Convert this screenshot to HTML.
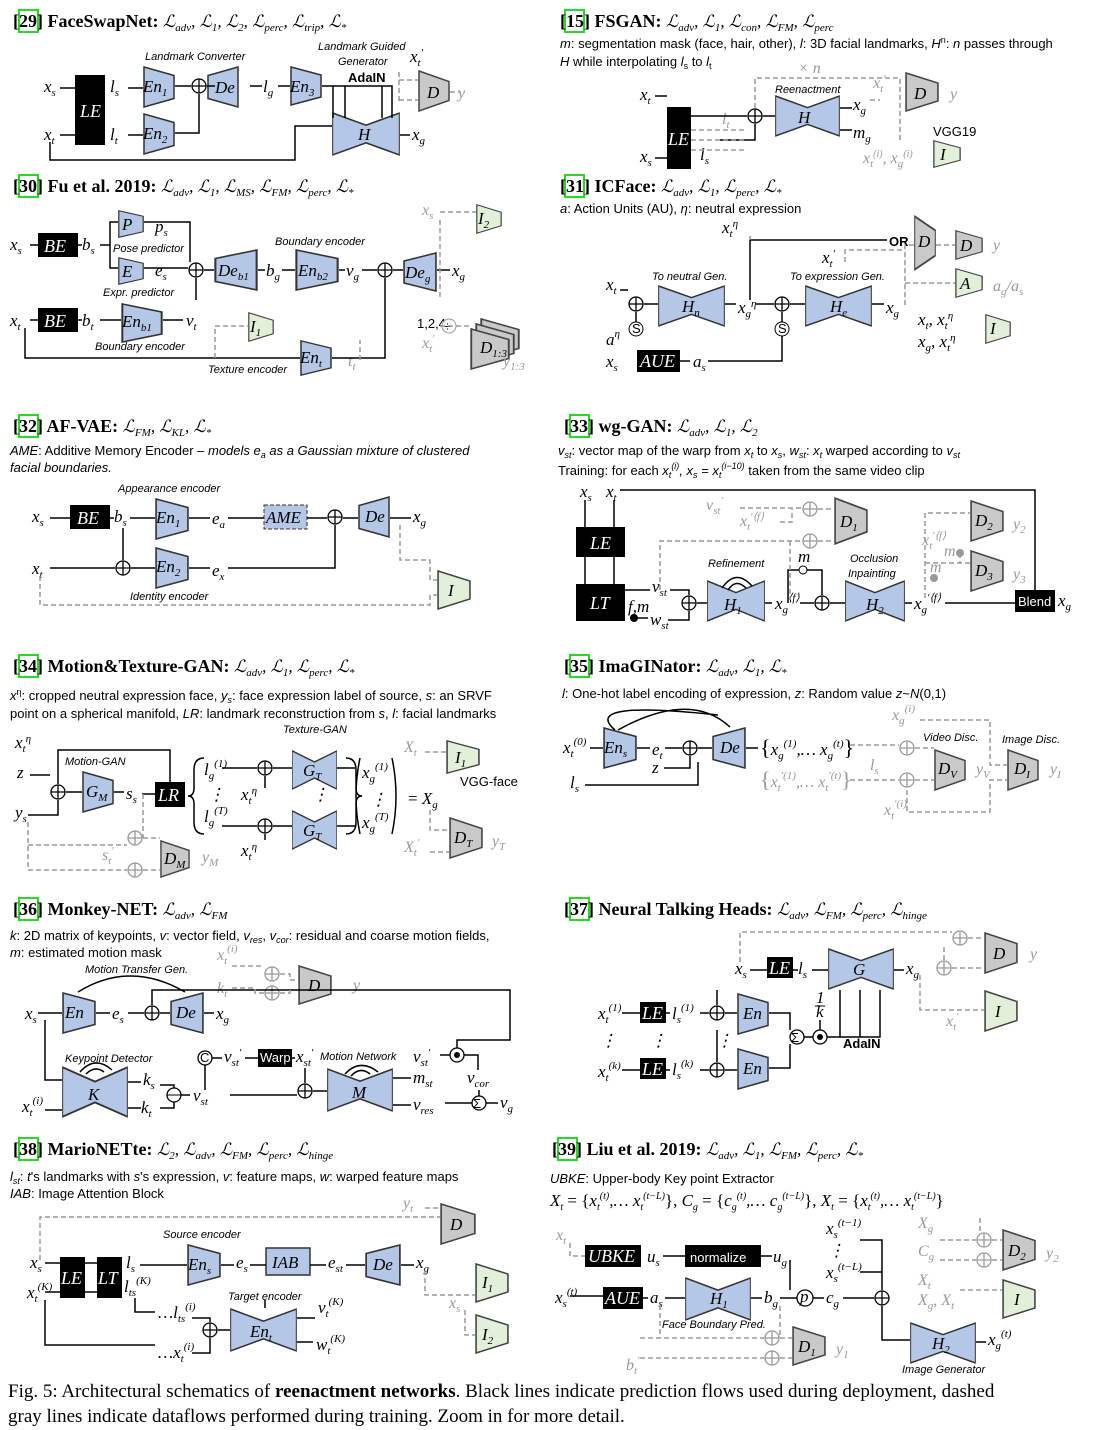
<!DOCTYPE html>
<html><head><meta charset="utf-8"><style>
body{margin:0;background:#fff}
svg{display:block}
.m{font-family:"Liberation Serif",serif;font-style:italic;font-size:17px;fill:#000}
.mg{font-family:"Liberation Serif",serif;font-style:italic;font-size:16px;fill:#999}
.s{font-family:"Liberation Sans",sans-serif;font-style:italic;font-size:11px;fill:#000}
.n{font-family:"Liberation Sans",sans-serif;font-size:13px;fill:#000}
.nw{font-family:"Liberation Sans",sans-serif;font-size:13px;fill:#fff}
.t{font-family:"Liberation Serif",serif;font-size:18px;font-weight:bold;fill:#000}
.l{font-family:"Liberation Serif",serif;font-style:italic;font-size:17px;font-weight:normal}
.w{font-family:"Liberation Serif",serif;font-style:italic;font-size:18px;fill:#fff}
.c{font-family:"Liberation Serif",serif;font-size:19px;fill:#000}
.k{stroke:#000;stroke-width:1.5;fill:none}
.d{stroke:#999;stroke-width:1.5;fill:none;stroke-dasharray:5,3}
</style></head><body>
<svg width="1095" height="1430" viewBox="0 0 1095 1430" xmlns="http://www.w3.org/2000/svg">
<defs>
<symbol id="enc" viewBox="0 0 32 40" preserveAspectRatio="none"><polygon points="1,1 31,9 31,31 1,39" fill="#b4c7e7" stroke="#333" stroke-width="1.5"/></symbol>
<symbol id="dec" viewBox="0 0 32 40" preserveAspectRatio="none"><polygon points="1,9 31,1 31,39 1,31" fill="#b4c7e7" stroke="#333" stroke-width="1.5"/></symbol>
<symbol id="bow" viewBox="0 0 100 40" preserveAspectRatio="none"><polygon points="1,1 50,12 99,1 99,39 50,28 1,39" fill="#b4c7e7" stroke="#333" stroke-width="1.5"/></symbol>
<symbol id="dis" viewBox="0 0 32 40" preserveAspectRatio="none"><polygon points="1,1 31,11 31,29 1,39" fill="#c9c9c9" stroke="#444" stroke-width="1.5"/></symbol>
<symbol id="idn" viewBox="0 0 32 40" preserveAspectRatio="none"><polygon points="1,1 31,11 31,29 1,39" fill="#e2efd9" stroke="#444" stroke-width="1.5"/></symbol>
<symbol id="pl" viewBox="-8 -8 16 16"><circle r="7" fill="#fff" stroke="#000" stroke-width="1.3"/><path d="M-7 0H7M0 -7V7" stroke="#000" stroke-width="1.3"/></symbol>
<symbol id="pg" viewBox="-8 -8 16 16"><circle r="7" fill="#fff" stroke="#999" stroke-width="1.3"/><path d="M-7 0H7M0 -7V7" stroke="#999" stroke-width="1.3"/></symbol>
</defs>

<!-- ================= 29 ================= -->
<rect x="19" y="10" width="19" height="22" fill="none" stroke="#2d2" stroke-width="2"/>
<text x="13" y="27" class="t">[29] FaceSwapNet: <tspan class="l">ℒ<tspan font-size="11" dy="4">adv</tspan><tspan dy="-4">, ℒ</tspan><tspan font-size="11" dy="4">1</tspan><tspan dy="-4">, ℒ</tspan><tspan font-size="11" dy="4">2</tspan><tspan dy="-4">, ℒ</tspan><tspan font-size="11" dy="4">perc</tspan><tspan dy="-4">, ℒ</tspan><tspan font-size="11" dy="4">trip</tspan><tspan dy="-4">, ℒ</tspan><tspan font-size="11" dy="4">*</tspan></tspan></text>
<text x="145" y="60" class="s">Landmark Converter</text>
<text x="318" y="50" class="s">Landmark Guided</text><text x="338" y="65" class="s">Generator</text>
<text x="348" y="82" class="n" font-size="11" font-weight="bold">AdaIN</text>
<rect x="75" y="75" width="30" height="70" fill="#000"/><text x="80" y="117" class="w">LE</text>
<text x="44" y="92" class="m">x<tspan font-size="11" dy="4">s</tspan></text>
<text x="44" y="140" class="m">x<tspan font-size="11" dy="4">t</tspan></text>
<text x="110" y="92" class="m">l<tspan font-size="11" dy="4">s</tspan></text>
<text x="110" y="140" class="m">l<tspan font-size="11" dy="4">t</tspan></text>
<use href="#enc" x="143" y="66" width="32" height="42"/><text x="143" y="92" class="m">En<tspan font-size="11" dy="4">1</tspan></text>
<use href="#enc" x="143" y="113" width="32" height="42"/><text x="143" y="139" class="m">En<tspan font-size="11" dy="4">2</tspan></text>
<use href="#pl" x="191" y="78" width="16" height="16"/>
<use href="#dec" x="207" y="66" width="32" height="42"/><text x="215" y="93" class="m">De</text>
<text x="263" y="92" class="m">l<tspan font-size="11" dy="4">g</tspan></text>
<use href="#enc" x="290" y="66" width="32" height="40"/><text x="290" y="92" class="m">En<tspan font-size="11" dy="4">3</tspan></text>
<use href="#bow" x="332" y="112" width="68" height="44"/><text x="358" y="140" class="m">H</text>
<text x="412" y="140" class="m">x<tspan font-size="11" dy="4">g</tspan></text>
<text x="410" y="62" class="m">x<tspan font-size="11" dy="4">t</tspan><tspan font-size="11" dy="-10">′</tspan></text>
<use href="#dis" x="418" y="70" width="32" height="42"/><text x="427" y="98" class="m">D</text>
<text x="458" y="98" class="mg">y</text>
<path class="k" d="M60 88H75M60 135H75M128 88H143M128 135H143M175 86H191M175 133H199V94M207 86H215M250 86H262M278 86H290M322 86H392V118M333 86V118M345 86V118M382 86V118M50 142V160H295V126H332M400 135H410"/>
<path class="d" d="M399 72V104M399 80H418M399 100H418M450 92H460"/>

<!-- ================= 15 ================= -->
<rect x="565" y="10" width="19" height="22" fill="none" stroke="#2d2" stroke-width="2"/>
<text x="560" y="27" class="t">[15] FSGAN: <tspan class="l">ℒ<tspan font-size="11" dy="4">adv</tspan><tspan dy="-4">, ℒ</tspan><tspan font-size="11" dy="4">1</tspan><tspan dy="-4">, ℒ</tspan><tspan font-size="11" dy="4">con</tspan><tspan dy="-4">, ℒ</tspan><tspan font-size="11" dy="4">FM</tspan><tspan dy="-4">, ℒ</tspan><tspan font-size="11" dy="4">perc</tspan></tspan></text>
<text x="560" y="48" class="n"><tspan font-style="italic">m</tspan>: segmentation mask (face, hair, other), <tspan font-style="italic">l</tspan>: 3D facial landmarks, <tspan font-style="italic">H</tspan><tspan font-size="9" dy="-5">n</tspan><tspan dy="5">: </tspan><tspan font-style="italic">n</tspan> passes through</text>
<text x="560" y="66" class="n"><tspan font-style="italic">H</tspan> while interpolating <tspan font-style="italic">l</tspan><tspan font-size="9" dy="3">s</tspan><tspan dy="-3"> to </tspan><tspan font-style="italic">l</tspan><tspan font-size="9" dy="3">t</tspan></text>
<text x="640" y="100" class="m">x<tspan font-size="11" dy="4">t</tspan></text>
<text x="640" y="162" class="m">x<tspan font-size="11" dy="4">s</tspan></text>
<rect x="667" y="107" width="24" height="62" fill="#000"/><text x="668" y="145" class="w">LE</text>
<text x="722" y="124" class="mg">l<tspan font-size="11" dy="4">t</tspan></text>
<text x="700" y="160" class="m">l<tspan font-size="11" dy="4">s</tspan></text>
<use href="#pl" x="747" y="108" width="16" height="16"/>
<text x="775" y="93" class="s">Reenactment</text>
<use href="#bow" x="775" y="95" width="65" height="42"/><text x="798" y="123" class="m">H</text>
<text x="853" y="110" class="m">x<tspan font-size="11" dy="4">g</tspan></text>
<text x="853" y="138" class="m">m<tspan font-size="11" dy="4">g</tspan></text>
<text x="798" y="73" class="mg" font-size="12">× n</text>
<text x="873" y="88" class="mg">x<tspan font-size="11" dy="4">t</tspan><tspan font-size="11" dy="-10">′</tspan></text>
<use href="#dis" x="905" y="72" width="34" height="40"/><text x="914" y="99" class="m">D</text>
<text x="950" y="99" class="mg">y</text>
<text x="933" y="136" class="n" font-size="8">VGG19</text>
<use href="#idn" x="933" y="140" width="28" height="28"/><text x="940" y="160" class="m">I</text>
<text x="863" y="163" class="mg">x<tspan font-size="11" dy="4">t</tspan><tspan font-size="10" dy="-10">(i)</tspan><tspan dy="6">, x</tspan><tspan font-size="11" dy="4">g</tspan><tspan font-size="10" dy="-10">(i)</tspan></text>
<path class="k" d="M655 96H667M655 158H667M691 116H747M763 116H775M840 108H852M840 130H852M755 124V140H720"/>
<path class="d" d="M755 108V78H900V140M870 100H880M691 130H745M691 140H745M691 150H745"/>

<!-- ================= 30 ================= -->
<rect x="19" y="175" width="19" height="22" fill="none" stroke="#2d2" stroke-width="2"/>
<text x="13" y="192" class="t">[30] Fu et al. 2019: <tspan class="l">ℒ<tspan font-size="11" dy="4">adv</tspan><tspan dy="-4">, ℒ</tspan><tspan font-size="11" dy="4">1</tspan><tspan dy="-4">, ℒ</tspan><tspan font-size="11" dy="4">MS</tspan><tspan dy="-4">, ℒ</tspan><tspan font-size="11" dy="4">FM</tspan><tspan dy="-4">, ℒ</tspan><tspan font-size="11" dy="4">perc</tspan><tspan dy="-4">, ℒ</tspan><tspan font-size="11" dy="4">*</tspan></tspan></text>
<text x="10" y="250" class="m">x<tspan font-size="11" dy="4">s</tspan></text>
<rect x="38" y="233" width="40" height="24" fill="#000"/><text x="44" y="252" class="w">BE</text>
<text x="82" y="250" class="m">b<tspan font-size="11" dy="4">s</tspan></text>
<use href="#enc" x="118" y="210" width="26" height="28"/><text x="122" y="230" class="m">P</text>
<use href="#enc" x="118" y="257" width="26" height="28"/><text x="122" y="277" class="m">E</text>
<text x="113" y="252" class="s">Pose predictor</text>
<text x="103" y="296" class="s">Expr. predictor</text>
<text x="155" y="232" class="m">p<tspan font-size="11" dy="4">s</tspan></text>
<text x="155" y="276" class="m">e<tspan font-size="11" dy="4">s</tspan></text>
<use href="#pl" x="188" y="262" width="16" height="16"/>
<use href="#dec" x="214" y="249" width="44" height="42"/><text x="218" y="276" class="m">De<tspan font-size="11" dy="4">b1</tspan></text>
<text x="266" y="276" class="m">b<tspan font-size="11" dy="4">g</tspan></text>
<text x="275" y="245" class="s">Boundary encoder</text>
<use href="#enc" x="295" y="249" width="44" height="42"/><text x="298" y="276" class="m">En<tspan font-size="11" dy="4">b2</tspan></text>
<text x="346" y="276" class="m">v<tspan font-size="11" dy="4">g</tspan></text>
<use href="#pl" x="377" y="262" width="16" height="16"/>
<use href="#dec" x="403" y="252" width="34" height="40"/><text x="405" y="278" class="m">De<tspan font-size="11" dy="4">g</tspan></text>
<text x="452" y="276" class="m">x<tspan font-size="11" dy="4">g</tspan></text>
<text x="422" y="215" class="mg">x<tspan font-size="11" dy="4">s</tspan></text>
<use href="#idn" x="476" y="204" width="26" height="30"/><text x="478" y="224" class="m">I<tspan font-size="11" dy="4">2</tspan></text>
<text x="10" y="326" class="m">x<tspan font-size="11" dy="4">t</tspan></text>
<rect x="38" y="308" width="40" height="24" fill="#000"/><text x="44" y="327" class="w">BE</text>
<text x="82" y="326" class="m">b<tspan font-size="11" dy="4">t</tspan></text>
<use href="#enc" x="121" y="303" width="42" height="40"/><text x="122" y="327" class="m">En<tspan font-size="11" dy="4">b1</tspan></text>
<text x="186" y="326" class="m">v<tspan font-size="11" dy="4">t</tspan></text>
<text x="95" y="350" class="s">Boundary encoder</text>
<use href="#idn" x="248" y="312" width="26" height="30"/><text x="250" y="332" class="m">I<tspan font-size="11" dy="4">1</tspan></text>
<use href="#enc" x="300" y="340" width="32" height="36"/><text x="300" y="363" class="m">En<tspan font-size="11" dy="4">t</tspan></text>
<text x="208" y="373" class="s">Texture encoder</text>
<text x="348" y="366" class="mg">t<tspan font-size="11" dy="4">t</tspan></text>
<text x="417" y="328" class="n" font-size="9">1,2,4</text>
<circle cx="449" cy="326" r="7" fill="#fff" stroke="#999"/><text x="444" y="331" class="n" fill="#555">÷</text>
<text x="422" y="348" class="mg">x<tspan font-size="11" dy="4">t</tspan><tspan font-size="11" dy="-10">′</tspan></text>
<use href="#dis" x="480" y="318" width="40" height="42"/>
<use href="#dis" x="475" y="323" width="40" height="42"/>
<use href="#dis" x="470" y="328" width="40" height="42"/><text x="480" y="353" class="m">D<tspan font-size="11" dy="4">1:3</tspan></text>
<text x="503" y="366" class="mg">y<tspan font-size="11" dy="4">1:3</tspan></text>
<path class="k" d="M30 245H38M78 245H82M100 245H110V222H118M110 245V268H118M144 222H190V262M144 268H188M204 270H214M258 270H265M282 270H295M339 270H345M362 270H377M393 270H403M437 270H450M30 320H38M78 320H82M100 320H121M163 320H183M25 328V358H300M332 358H385V278M196 278V300"/>
<path class="d" d="M215 358V326H248M440 212H476M440 220V300M440 326H470M360 360V340"/>

<!-- ================= 31 ================= -->
<rect x="565" y="175" width="19" height="22" fill="none" stroke="#2d2" stroke-width="2"/>
<text x="560" y="192" class="t">[31] ICFace: <tspan class="l">ℒ<tspan font-size="11" dy="4">adv</tspan><tspan dy="-4">, ℒ</tspan><tspan font-size="11" dy="4">1</tspan><tspan dy="-4">, ℒ</tspan><tspan font-size="11" dy="4">perc</tspan><tspan dy="-4">, ℒ</tspan><tspan font-size="11" dy="4">*</tspan></tspan></text>
<text x="560" y="213" class="n"><tspan font-style="italic">a</tspan>: Action Units (AU), <tspan font-style="italic">η</tspan>: neutral expression</text>
<text x="722" y="233" class="m">x<tspan font-size="11" dy="4">t</tspan><tspan font-size="11" dy="-10">η</tspan></text>
<text x="822" y="263" class="m">x<tspan font-size="11" dy="4">t</tspan><tspan font-size="11" dy="-10">′</tspan></text>
<text x="889" y="246" class="n" font-size="10" font-weight="bold">OR</text>
<use href="#dis" x="914" y="215" width="22" height="56"/><text x="918" y="247" class="m">D</text>
<use href="#dis" x="955" y="230" width="28" height="30"/><text x="960" y="251" class="m">D</text>
<text x="993" y="250" class="mg">y</text>
<use href="#idn" x="955" y="268" width="28" height="30"/><text x="960" y="289" class="m">A</text>
<text x="993" y="291" class="mg">a<tspan font-size="11" dy="4">g</tspan><tspan dy="-4">/a</tspan><tspan font-size="11" dy="4">s</tspan></text>
<text x="918" y="325" class="m">x<tspan font-size="11" dy="4">t</tspan><tspan dy="-4">, x</tspan><tspan font-size="11" dy="4">t</tspan><tspan font-size="11" dy="-10">η</tspan></text>
<text x="918" y="347" class="m">x<tspan font-size="11" dy="4">g</tspan><tspan dy="-4">, x</tspan><tspan font-size="11" dy="4">t</tspan><tspan font-size="11" dy="-10">η</tspan></text>
<use href="#idn" x="985" y="314" width="26" height="30"/><text x="990" y="334" class="m">I</text>
<text x="606" y="290" class="m">x<tspan font-size="11" dy="4">t</tspan></text>
<use href="#pl" x="628" y="296" width="16" height="16"/>
<circle cx="636" cy="329" r="7" fill="#fff" stroke="#000"/><text x="632" y="333" class="n" font-size="10">S</text>
<text x="606" y="345" class="m">a<tspan font-size="11" dy="-8">η</tspan></text>
<text x="652" y="280" class="s">To neutral Gen.</text>
<use href="#bow" x="658" y="285" width="67" height="42"/><text x="682" y="312" class="m">H<tspan font-size="11" dy="4">n</tspan></text>
<text x="738" y="313" class="m">x<tspan font-size="11" dy="4">g</tspan><tspan font-size="11" dy="-10">η</tspan></text>
<use href="#pl" x="774" y="296" width="16" height="16"/>
<circle cx="782" cy="329" r="7" fill="#fff" stroke="#000"/><text x="778" y="333" class="n" font-size="10">S</text>
<text x="790" y="280" class="s">To expression Gen.</text>
<use href="#bow" x="805" y="285" width="67" height="42"/><text x="830" y="312" class="m">H<tspan font-size="11" dy="4">e</tspan></text>
<text x="886" y="313" class="m">x<tspan font-size="11" dy="4">g</tspan></text>
<text x="606" y="367" class="m">x<tspan font-size="11" dy="4">s</tspan></text>
<rect x="637" y="350" width="43" height="22" fill="#000"/><text x="640" y="367" class="w">AUE</text>
<text x="693" y="367" class="m">a<tspan font-size="11" dy="4">s</tspan></text>
<path class="k" d="M620 290H628M644 304H658M636 312V322M725 304H736M756 304H774M790 304H805M782 312V322M872 304H884M680 361H690M708 361H782V336M750 300V240H887"/>
<path class="d" d="M905 305V245H914M936 245H955M905 283H955M750 240V236M845 262V250H905"/>

<!-- ================= 32 ================= -->
<rect x="19" y="415" width="19" height="22" fill="none" stroke="#2d2" stroke-width="2"/>
<text x="13" y="432" class="t">[32] AF-VAE: <tspan class="l">ℒ<tspan font-size="11" dy="4">FM</tspan><tspan dy="-4">, ℒ</tspan><tspan font-size="11" dy="4">KL</tspan><tspan dy="-4">, ℒ</tspan><tspan font-size="11" dy="4">*</tspan></tspan></text>
<text x="10" y="455" class="n"><tspan font-style="italic">AME</tspan>: Additive Memory Encoder – <tspan font-style="italic">models e<tspan font-size="9" dy="3">a</tspan><tspan dy="-3"> as a Gaussian mixture of clustered</tspan></tspan></text>
<text x="10" y="472" class="n" font-style="italic">facial boundaries.</text>
<text x="118" y="492" class="s">Appearance encoder</text>
<text x="32" y="522" class="m">x<tspan font-size="11" dy="4">s</tspan></text>
<rect x="70" y="505" width="40" height="24" fill="#000"/><text x="77" y="524" class="w">BE</text>
<text x="114" y="522" class="m">b<tspan font-size="11" dy="4">s</tspan></text>
<use href="#enc" x="155" y="498" width="34" height="42"/><text x="156" y="523" class="m">En<tspan font-size="11" dy="4">1</tspan></text>
<text x="212" y="524" class="m">e<tspan font-size="11" dy="4">a</tspan></text>
<rect x="264" y="505" width="43" height="24" fill="#b4c7e7" stroke="#333" stroke-dasharray="4,2"/><text x="266" y="523" class="m">AME</text>
<use href="#pl" x="327" y="509" width="16" height="16"/>
<use href="#dec" x="358" y="496" width="32" height="42"/><text x="365" y="522" class="m">De</text>
<text x="413" y="522" class="m">x<tspan font-size="11" dy="4">g</tspan></text>
<text x="32" y="574" class="m">x<tspan font-size="11" dy="4">t</tspan></text>
<use href="#pl" x="115" y="560" width="16" height="16"/>
<use href="#enc" x="155" y="547" width="34" height="42"/><text x="156" y="572" class="m">En<tspan font-size="11" dy="4">2</tspan></text>
<text x="212" y="576" class="m">e<tspan font-size="11" dy="4">x</tspan></text>
<text x="130" y="600" class="s">Identity encoder</text>
<use href="#idn" x="437" y="570" width="34" height="40"/><text x="448" y="596" class="m">I</text>
<path class="k" d="M50 518H70M110 518H114M130 518H155M189 518H210M228 518H264M307 518H327M343 518H358M390 518H411M123 528V560M50 568H115M131 568H155M189 568H210M228 568H335V525"/>
<path class="d" d="M40 576V605H430V595H437M400 525V560H430V580H437"/>

<!-- ================= 33 ================= -->
<rect x="570" y="415" width="19" height="22" fill="none" stroke="#2d2" stroke-width="2"/>
<text x="564" y="432" class="t">[33] wg-GAN: <tspan class="l">ℒ<tspan font-size="11" dy="4">adv</tspan><tspan dy="-4">, ℒ</tspan><tspan font-size="11" dy="4">1</tspan><tspan dy="-4">, ℒ</tspan><tspan font-size="11" dy="4">2</tspan></tspan></text>
<text x="558" y="455" class="n"><tspan font-style="italic">v<tspan font-size="9" dy="3">st</tspan></tspan><tspan dy="-3">: vector map of the warp from </tspan><tspan font-style="italic">x<tspan font-size="9" dy="3">t</tspan></tspan><tspan dy="-3"> to </tspan><tspan font-style="italic">x<tspan font-size="9" dy="3">s</tspan></tspan><tspan dy="-3">, </tspan><tspan font-style="italic">w<tspan font-size="9" dy="3">st</tspan></tspan><tspan dy="-3">: </tspan><tspan font-style="italic">x<tspan font-size="9" dy="3">t</tspan></tspan><tspan dy="-3"> warped according to </tspan><tspan font-style="italic">v<tspan font-size="9" dy="3">st</tspan></tspan></text>
<text x="558" y="475" class="n">Training: for each <tspan font-style="italic">x<tspan font-size="9" dy="3">t</tspan><tspan font-size="9" dy="-9">(i)</tspan><tspan dy="6">, x</tspan><tspan font-size="9" dy="3">s</tspan><tspan dy="-3"> = x</tspan><tspan font-size="9" dy="3">t</tspan><tspan font-size="9" dy="-9">(i−10)</tspan></tspan><tspan dy="6"> taken from the same video clip</tspan></text>
<text x="580" y="497" class="m">x<tspan font-size="11" dy="4">s</tspan></text>
<text x="606" y="497" class="m">x<tspan font-size="11" dy="4">t</tspan></text>
<rect x="576" y="527" width="49" height="30" fill="#000"/><text x="590" y="549" class="w">LE</text>
<rect x="576" y="584" width="49" height="37" fill="#000"/><text x="590" y="609" class="w">LT</text>
<text x="652" y="592" class="m">v<tspan font-size="11" dy="4">st</tspan></text>
<text x="650" y="625" class="m">w<tspan font-size="11" dy="4">st</tspan></text>
<text x="628" y="612" class="m" font-size="12">f,m</text>
<circle cx="634" cy="618" r="4" fill="#000"/>
<use href="#pl" x="681" y="595" width="16" height="16"/>
<text x="708" y="567" class="s">Refinement</text>
<use href="#bow" x="707" y="580" width="58" height="42"/><text x="724" y="610" class="m">H<tspan font-size="11" dy="4">1</tspan></text>
<path class="k" d="M722 588Q736 568 752 586M728 590Q736 578 746 588"/>
<text x="775" y="609" class="m">x<tspan font-size="11" dy="4">g</tspan><tspan font-size="11" dy="-12">⟨f⟩</tspan></text>
<use href="#pl" x="814" y="595" width="16" height="16"/>
<circle cx="803" cy="570" r="4" fill="#fff" stroke="#000"/><text x="798" y="562" class="m" font-size="11">m</text>
<text x="850" y="562" class="s">Occlusion</text><text x="848" y="577" class="s">Inpainting</text>
<use href="#bow" x="845" y="580" width="60" height="42"/><text x="866" y="610" class="m">H<tspan font-size="11" dy="4">2</tspan></text>
<text x="914" y="609" class="m">x<tspan font-size="11" dy="4">g</tspan><tspan font-size="11" dy="-12">′⟨f⟩</tspan></text>
<rect x="1015" y="590" width="40" height="22" fill="#000"/><text x="1018" y="606" class="nw">Blend</text>
<text x="1058" y="606" class="m">x<tspan font-size="11" dy="4">g</tspan></text>
<text x="706" y="510" class="mg">v<tspan font-size="11" dy="4">st</tspan><tspan font-size="11" dy="-10">′</tspan></text>
<text x="740" y="526" class="mg">x<tspan font-size="11" dy="4">t</tspan><tspan font-size="11" dy="-10">′⟨f⟩</tspan></text>
<use href="#pg" x="802" y="501" width="16" height="16"/>
<use href="#pg" x="802" y="533" width="16" height="16"/>
<use href="#dis" x="834" y="497" width="34" height="48"/><text x="840" y="527" class="m">D<tspan font-size="11" dy="4">1</tspan></text>
<use href="#dis" x="970" y="500" width="34" height="42"/><text x="975" y="526" class="m">D<tspan font-size="11" dy="4">2</tspan></text>
<text x="1013" y="529" class="mg">y<tspan font-size="11" dy="4">2</tspan></text>
<use href="#dis" x="970" y="550" width="34" height="42"/><text x="975" y="576" class="m">D<tspan font-size="11" dy="4">3</tspan></text>
<text x="1013" y="579" class="mg">y<tspan font-size="11" dy="4">3</tspan></text>
<text x="922" y="545" class="mg">x<tspan font-size="11" dy="4">t</tspan><tspan font-size="11" dy="-10">′⟨f⟩</tspan></text>
<text x="944" y="556" class="mg" font-size="11">m</text><circle cx="960" cy="553" r="4" fill="#999"/>
<text x="930" y="572" class="mg" font-size="11">m</text><circle cx="934" cy="578" r="4" fill="#999"/>
<path class="k" d="M585 500V527M614 500V527M585 557V584M614 557V584M625 590H650M670 590H689V595M638 618H648M668 620H689V611M697 603H707M765 603H772M800 603H814M830 603H845M788 603V570H799M807 570H822V595M905 603H912M945 603H1015M620 490H1035V590"/>
<path class="d" d="M740 508H802M780 522H792V509M818 509H834M660 590V541H802M818 541H834M790 541V600M925 598V513H970M925 563H970M960 553V563"/>

<!-- ================= 34 ================= -->
<rect x="19" y="655" width="19" height="22" fill="none" stroke="#2d2" stroke-width="2"/>
<text x="13" y="672" class="t">[34] Motion&amp;Texture-GAN: <tspan class="l">ℒ<tspan font-size="11" dy="4">adv</tspan><tspan dy="-4">, ℒ</tspan><tspan font-size="11" dy="4">1</tspan><tspan dy="-4">, ℒ</tspan><tspan font-size="11" dy="4">perc</tspan><tspan dy="-4">, ℒ</tspan><tspan font-size="11" dy="4">*</tspan></tspan></text>
<text x="10" y="700" class="n"><tspan font-style="italic">x</tspan><tspan font-size="9" dy="-5">η</tspan><tspan dy="5">: cropped neutral expression face, </tspan><tspan font-style="italic">y<tspan font-size="9" dy="3">s</tspan></tspan><tspan dy="-3">: face expression label of source, </tspan><tspan font-style="italic">s</tspan>: an SRVF</text>
<text x="10" y="718" class="n">point on a spherical manifold, <tspan font-style="italic">LR</tspan>: landmark reconstruction from <tspan font-style="italic">s</tspan>, <tspan font-style="italic">l</tspan>: facial landmarks</text>
<text x="15" y="748" class="m">x<tspan font-size="11" dy="4">t</tspan><tspan font-size="11" dy="-10">η</tspan></text>
<text x="17" y="778" class="m">z</text>
<text x="15" y="818" class="m">y<tspan font-size="11" dy="4">s</tspan></text>
<use href="#pl" x="50" y="784" width="16" height="16"/>
<text x="65" y="765" class="s">Motion-GAN</text>
<use href="#enc" x="82" y="771" width="32" height="42"/><text x="86" y="797" class="m">G<tspan font-size="11" dy="4">M</tspan></text>
<text x="126" y="799" class="m">s<tspan font-size="11" dy="4">s</tspan></text>
<rect x="155" y="782" width="30" height="25" fill="#000"/><text x="158" y="801" class="w">LR</text>
<path class="k" d="M204 758Q194 758 194 770V788Q194 796 188 796Q194 796 194 804V822Q194 834 204 834"/>
<text x="204" y="775" class="m">l<tspan font-size="11" dy="4">g</tspan><tspan font-size="11" dy="-12">(1)</tspan></text>
<text x="208" y="800" class="m">⋮</text>
<text x="204" y="822" class="m">l<tspan font-size="11" dy="4">g</tspan><tspan font-size="11" dy="-12">(T)</tspan></text>
<text x="241" y="800" class="m">x<tspan font-size="11" dy="4">t</tspan><tspan font-size="11" dy="-10">η</tspan></text>
<text x="241" y="856" class="m">x<tspan font-size="11" dy="4">t</tspan><tspan font-size="11" dy="-10">η</tspan></text>
<use href="#pl" x="257" y="760" width="16" height="16"/>
<use href="#pl" x="257" y="818" width="16" height="16"/>
<text x="283" y="733" class="s">Texture-GAN</text>
<use href="#bow" x="292" y="750" width="45" height="40"/><text x="303" y="776" class="m">G<tspan font-size="11" dy="4">T</tspan></text>
<use href="#bow" x="292" y="810" width="45" height="40"/><text x="303" y="836" class="m">G<tspan font-size="11" dy="4">T</tspan></text>
<text x="312" y="800" class="m">⋮</text>
<path class="k" d="M346 758Q356 758 356 770V788Q356 796 362 796Q356 796 356 804V822Q356 834 346 834"/>
<text x="362" y="778" class="m">x<tspan font-size="11" dy="4">g</tspan><tspan font-size="11" dy="-12">(1)</tspan></text>
<text x="370" y="805" class="m">⋮</text>
<text x="362" y="828" class="m">x<tspan font-size="11" dy="4">g</tspan><tspan font-size="11" dy="-12">(T)</tspan></text>
<path class="k" d="M360 758Q352 796 360 834M392 758Q400 796 392 834"/>
<text x="408" y="804" class="m"><tspan font-style="normal">=</tspan> X<tspan font-size="11" dy="4">g</tspan></text>
<text x="404" y="752" class="mg">X<tspan font-size="11" dy="4">t</tspan></text>
<use href="#idn" x="446" y="740" width="34" height="34"/><text x="455" y="763" class="m">I<tspan font-size="11" dy="4">1</tspan></text>
<text x="460" y="786" class="n" font-size="8">VGG-face</text>
<use href="#dis" x="449" y="817" width="34" height="42"/><text x="454" y="843" class="m">D<tspan font-size="11" dy="4">T</tspan></text>
<text x="492" y="846" class="mg">y<tspan font-size="11" dy="4">T</tspan></text>
<text x="404" y="852" class="mg">X<tspan font-size="11" dy="4">t</tspan><tspan font-size="11" dy="-10">′</tspan></text>
<use href="#pg" x="127" y="830" width="16" height="16"/>
<use href="#pg" x="127" y="862" width="16" height="16"/>
<text x="102" y="860" class="mg">s<tspan font-size="11" dy="4">t</tspan><tspan font-size="11" dy="-10">′</tspan></text>
<use href="#dis" x="160" y="840" width="30" height="38"/><text x="164" y="864" class="m">D<tspan font-size="11" dy="4">M</tspan></text>
<text x="202" y="862" class="mg">y<tspan font-size="11" dy="4">M</tspan></text>
<path class="k" d="M30 775H50M58 784V750H170V782M28 815H58V800M66 792H82M114 792H124M142 794H155M222 768H257M222 826H257M273 768H292M273 826H292M337 768H355M337 826H355M265 788V776M265 840V834"/>
<path class="d" d="M143 794V838M143 838H160M143 870H160M28 822V870H127M28 845H127M425 752H446M430 810V830H449M430 852H449"/>

<!-- ================= 35 ================= -->
<rect x="570" y="655" width="19" height="22" fill="none" stroke="#2d2" stroke-width="2"/>
<text x="564" y="672" class="t">[35] ImaGINator: <tspan class="l">ℒ<tspan font-size="11" dy="4">adv</tspan><tspan dy="-4">, ℒ</tspan><tspan font-size="11" dy="4">1</tspan><tspan dy="-4">, ℒ</tspan><tspan font-size="11" dy="4">*</tspan></tspan></text>
<text x="562" y="698" class="n"><tspan font-style="italic">l</tspan>: One-hot label encoding of expression, <tspan font-style="italic">z</tspan>: Random value <tspan font-style="italic">z</tspan>~<tspan font-style="italic">N</tspan>(0,1)</text>
<text x="563" y="753" class="m">x<tspan font-size="11" dy="4">t</tspan><tspan font-size="11" dy="-12">(0)</tspan></text>
<use href="#enc" x="603" y="727" width="34" height="42"/><text x="604" y="753" class="m">En<tspan font-size="11" dy="4">s</tspan></text>
<text x="652" y="755" class="m">e<tspan font-size="11" dy="4">t</tspan></text>
<text x="652" y="773" class="m">z</text>
<text x="570" y="788" class="m">l<tspan font-size="11" dy="4">s</tspan></text>
<use href="#pl" x="682" y="740" width="16" height="16"/>
<use href="#dec" x="712" y="727" width="34" height="42"/><text x="720" y="753" class="m">De</text>
<path class="k" d="M618 730Q690 690 730 727M615 730Q580 700 718 715"/>
<text x="760" y="755" class="m"><tspan font-style="normal" font-size="22">{</tspan>x<tspan font-size="11" dy="4">g</tspan><tspan font-size="11" dy="-12">(1)</tspan><tspan dy="8">,… x</tspan><tspan font-size="11" dy="4">g</tspan><tspan font-size="11" dy="-12">(t)</tspan><tspan dy="8" font-style="normal" font-size="22">}</tspan></text>
<text x="760" y="787" class="mg"><tspan font-style="normal" font-size="22">{</tspan>x<tspan font-size="11" dy="4">t</tspan><tspan font-size="11" dy="-12">′(1)</tspan><tspan dy="8">,… x</tspan><tspan font-size="11" dy="4">t</tspan><tspan font-size="11" dy="-12">′(t)</tspan><tspan dy="8" font-style="normal" font-size="22">}</tspan></text>
<text x="892" y="720" class="mg">x<tspan font-size="11" dy="4">g</tspan><tspan font-size="11" dy="-12">(i)</tspan></text>
<text x="870" y="770" class="mg">l<tspan font-size="11" dy="4">s</tspan></text>
<text x="884" y="815" class="mg">x<tspan font-size="11" dy="4">t</tspan><tspan font-size="11" dy="-12">′(i)</tspan></text>
<use href="#pg" x="899" y="740" width="16" height="16"/>
<use href="#pg" x="899" y="772" width="16" height="16"/>
<text x="923" y="741" class="s">Video Disc.</text>
<use href="#dis" x="934" y="749" width="32" height="42"/><text x="938" y="774" class="m">D<tspan font-size="11" dy="4">V</tspan></text>
<text x="976" y="774" class="mg">y<tspan font-size="11" dy="4">V</tspan></text>
<text x="1002" y="743" class="s">Image Disc.</text>
<use href="#dis" x="1007" y="749" width="32" height="42"/><text x="1014" y="774" class="m">D<tspan font-size="11" dy="4">I</tspan></text>
<text x="1050" y="774" class="mg">y<tspan font-size="11" dy="4">I</tspan></text>
<path class="k" d="M590 748H603M637 748H650M665 748H682M698 748H712M664 768H690V756M585 785H698V762M746 748H758"/>
<path class="d" d="M850 745H899M850 780H899M915 748H934M915 780H934M920 720H990V765H1007M907 790V812H990V780H1007"/>

<!-- ================= 36 ================= -->
<rect x="19" y="898" width="19" height="22" fill="none" stroke="#2d2" stroke-width="2"/>
<text x="13" y="915" class="t">[36] Monkey-NET: <tspan class="l">ℒ<tspan font-size="11" dy="4">adv</tspan><tspan dy="-4">, ℒ</tspan><tspan font-size="11" dy="4">FM</tspan></tspan></text>
<text x="10" y="940" class="n"><tspan font-style="italic">k</tspan>: 2D matrix of keypoints, <tspan font-style="italic">v</tspan>: vector field, <tspan font-style="italic">v<tspan font-size="9" dy="3">res</tspan></tspan><tspan dy="-3">, </tspan><tspan font-style="italic">v<tspan font-size="9" dy="3">cor</tspan></tspan><tspan dy="-3">: residual and coarse motion fields,</tspan></text>
<text x="10" y="957" class="n"><tspan font-style="italic">m</tspan>: estimated motion mask</text>
<text x="85" y="973" class="s">Motion Transfer Gen.</text>
<text x="25" y="1019" class="m">x<tspan font-size="11" dy="4">s</tspan></text>
<use href="#enc" x="62" y="992" width="34" height="42"/><text x="65" y="1018" class="m">En</text>
<text x="112" y="1019" class="m">e<tspan font-size="11" dy="4">s</tspan></text>
<use href="#pl" x="144" y="1005" width="16" height="16"/>
<use href="#dec" x="170" y="992" width="34" height="42"/><text x="176" y="1018" class="m">De</text>
<text x="216" y="1019" class="m">x<tspan font-size="11" dy="4">g</tspan></text>
<path class="k" d="M78 992Q130 960 185 992"/>
<text x="217" y="960" class="mg">x<tspan font-size="11" dy="4">t</tspan><tspan font-size="11" dy="-12">(i)</tspan></text>
<text x="217" y="993" class="mg">k<tspan font-size="11" dy="4">t</tspan></text>
<use href="#pg" x="264" y="966" width="16" height="16"/>
<use href="#pg" x="264" y="985" width="16" height="16"/>
<use href="#dis" x="298" y="965" width="34" height="40"/><text x="308" y="991" class="m">D</text>
<text x="353" y="990" class="mg">y</text>
<text x="65" y="1062" class="s">Keypoint Detector</text>
<use href="#bow" x="62" y="1066" width="66" height="52"/><text x="88" y="1100" class="m">K</text>
<path class="k" d="M80 1072Q95 1055 112 1070M86 1074Q95 1065 104 1072"/>
<text x="22" y="1112" class="m">x<tspan font-size="11" dy="4">t</tspan><tspan font-size="11" dy="-12">(i)</tspan></text>
<text x="143" y="1085" class="m">k<tspan font-size="11" dy="4">s</tspan></text>
<text x="141" y="1113" class="m">k<tspan font-size="11" dy="4">t</tspan></text>
<circle cx="174" cy="1095" r="7" fill="#fff" stroke="#000" stroke-width="1.3"/><path d="M167 1095H181" stroke="#000"/>
<text x="193" y="1101" class="m">v<tspan font-size="11" dy="4">st</tspan></text>
<circle cx="205" cy="1058" r="7" fill="#fff" stroke="#000" stroke-width="1.3"/><text x="200" y="1062" class="n" font-size="10">C</text>
<text x="224" y="1062" class="m">v<tspan font-size="11" dy="4">st</tspan><tspan font-size="11" dy="-10">′</tspan></text>
<rect x="258" y="1049" width="34" height="18" fill="#000"/><text x="260" y="1062" class="nw" font-size="10">Warp</text>
<text x="296" y="1062" class="m">x<tspan font-size="11" dy="4">st</tspan><tspan font-size="11" dy="-10">′</tspan></text>
<text x="320" y="1060" class="s">Motion Network</text>
<use href="#pl" x="297" y="1083" width="16" height="16"/>
<use href="#bow" x="327" y="1068" width="66" height="44"/><text x="352" y="1098" class="m">M</text>
<path class="k" d="M345 1074Q360 1058 378 1072M351 1076Q360 1066 370 1074"/>
<text x="413" y="1062" class="m">v<tspan font-size="11" dy="4">st</tspan><tspan font-size="11" dy="-10">′</tspan></text>
<text x="413" y="1083" class="m">m<tspan font-size="11" dy="4">st</tspan></text>
<text x="413" y="1110" class="m">v<tspan font-size="11" dy="4">res</tspan></text>
<circle cx="457" cy="1055" r="7" fill="#fff" stroke="#000" stroke-width="1.3"/><circle cx="457" cy="1055" r="3" fill="#000"/>
<text x="467" y="1083" class="m">v<tspan font-size="11" dy="4">cor</tspan></text>
<circle cx="479" cy="1103" r="7" fill="#fff" stroke="#000" stroke-width="1.3"/><text x="473" y="1108" class="n" font-size="12">Σ</text>
<text x="500" y="1108" class="m">v<tspan font-size="11" dy="4">g</tspan></text>
<path class="k" d="M38 1013H62M96 1013H110M128 1013H144M160 1013H170M204 1013H214M45 1020V1080H62M45 1110H62M128 1082H141M128 1108H141M160 1085H174V1088M160 1108H174V1102M181 1095H190M205 1090V1065M212 1058H222M245 1058H258M292 1058H295M305 1068V1083M313 1091H327M230 1095H297M393 1078H411M393 1105H411M440 1055H450M464 1055H478V1070M479 1090V1096M445 1103H472M486 1103H498M152 1005V990H510V1040H457V1048"/>
<path class="d" d="M232 966H264M232 988H255V993H264M280 974H290V980H298M280 993H290V990"/>

<!-- ================= 37 ================= -->
<rect x="570" y="898" width="19" height="22" fill="none" stroke="#2d2" stroke-width="2"/>
<text x="564" y="915" class="t">[37] Neural Talking Heads: <tspan class="l">ℒ<tspan font-size="11" dy="4">adv</tspan><tspan dy="-4">, ℒ</tspan><tspan font-size="11" dy="4">FM</tspan><tspan dy="-4">, ℒ</tspan><tspan font-size="11" dy="4">perc</tspan><tspan dy="-4">, ℒ</tspan><tspan font-size="11" dy="4">hinge</tspan></tspan></text>
<text x="735" y="974" class="m">x<tspan font-size="11" dy="4">s</tspan></text>
<rect x="767" y="957" width="26" height="21" fill="#000"/><text x="769" y="974" class="w" font-size="16">LE</text>
<text x="798" y="974" class="m">l<tspan font-size="11" dy="4">s</tspan></text>
<use href="#bow" x="828" y="948" width="66" height="42"/><text x="853" y="975" class="m">G</text>
<text x="906" y="974" class="m">x<tspan font-size="11" dy="4">g</tspan></text>
<use href="#pg" x="952" y="930" width="16" height="16"/>
<use href="#pg" x="936" y="960" width="16" height="16"/>
<use href="#dis" x="984" y="932" width="34" height="42"/><text x="993" y="959" class="m">D</text>
<text x="1030" y="959" class="mg">y</text>
<use href="#idn" x="984" y="990" width="34" height="42"/><text x="995" y="1017" class="m">I</text>
<text x="946" y="1026" class="mg">x<tspan font-size="11" dy="4">t</tspan><tspan font-size="11" dy="-10">′</tspan></text>
<text x="598" y="1019" class="m">x<tspan font-size="11" dy="4">t</tspan><tspan font-size="11" dy="-12">(1)</tspan></text>
<rect x="640" y="1002" width="26" height="21" fill="#000"/><text x="642" y="1019" class="w" font-size="16">LE</text>
<text x="672" y="1019" class="m">l<tspan font-size="11" dy="4">s</tspan><tspan font-size="11" dy="-12">(1)</tspan></text>
<use href="#pl" x="709" y="1005" width="16" height="16"/>
<use href="#enc" x="737" y="993" width="32" height="42"/><text x="743" y="1019" class="m">En</text>
<text x="600" y="1046" class="m">⋮</text><text x="650" y="1046" class="m">⋮</text><text x="716" y="1046" class="m">⋮</text>
<text x="598" y="1077" class="m">x<tspan font-size="11" dy="4">t</tspan><tspan font-size="11" dy="-12">(k)</tspan></text>
<rect x="640" y="1058" width="26" height="21" fill="#000"/><text x="642" y="1075" class="w" font-size="16">LE</text>
<text x="672" y="1075" class="m">l<tspan font-size="11" dy="4">s</tspan><tspan font-size="11" dy="-12">(k)</tspan></text>
<use href="#pl" x="709" y="1062" width="16" height="16"/>
<use href="#enc" x="737" y="1048" width="32" height="42"/><text x="743" y="1074" class="m">En</text>
<circle cx="797" cy="1037" r="7" fill="#fff" stroke="#000" stroke-width="1.3"/><text x="791" y="1042" class="n" font-size="12">Σ</text>
<circle cx="820" cy="1037" r="7" fill="#fff" stroke="#000" stroke-width="1.3"/><circle cx="820" cy="1037" r="3" fill="#000"/>
<text x="816" y="1003" class="m" font-size="12">1</text><path d="M815 1006H825" stroke="#000"/><text x="816" y="1017" class="m" font-size="12">k</text>
<text x="843" y="1048" class="n" font-size="10" font-weight="bold">AdaIN</text>
<path class="k" d="M750 970H767M793 970H798M812 970H828M894 970H904M622 1013H640M666 1013H670M700 1013H709M725 1013H737M622 1070H640M666 1070H670M700 1070H709M725 1070H737M769 1013H790V1030M769 1068H790V1044M804 1037H813M820 1020V1030M827 1037H880V990M840 1037V990M860 1037V990M717 990V1005M717 1030V1062"/>
<path class="d" d="M740 962V932H952M968 938H984M952 968H984M944 960V945M920 975V1010H984"/>

<!-- ================= 38 ================= -->
<rect x="19" y="1138" width="19" height="22" fill="none" stroke="#2d2" stroke-width="2"/>
<text x="13" y="1155" class="t">[38] MarioNETte: <tspan class="l">ℒ<tspan font-size="11" dy="4">2</tspan><tspan dy="-4">, ℒ</tspan><tspan font-size="11" dy="4">adv</tspan><tspan dy="-4">, ℒ</tspan><tspan font-size="11" dy="4">FM</tspan><tspan dy="-4">, ℒ</tspan><tspan font-size="11" dy="4">perc</tspan><tspan dy="-4">, ℒ</tspan><tspan font-size="11" dy="4">hinge</tspan></tspan></text>
<text x="10" y="1181" class="n"><tspan font-style="italic">l<tspan font-size="9" dy="3">st</tspan></tspan><tspan dy="-3">: </tspan><tspan font-style="italic">t</tspan>'s landmarks with <tspan font-style="italic">s</tspan>'s expression,   <tspan font-style="italic">v</tspan>: feature maps,   <tspan font-style="italic">w</tspan>: warped feature maps</text>
<text x="10" y="1198" class="n"><tspan font-style="italic">IAB</tspan>: Image Attention Block</text>
<text x="403" y="1208" class="mg">y<tspan font-size="11" dy="4">t</tspan></text>
<use href="#dis" x="440" y="1203" width="36" height="42"/><text x="450" y="1230" class="m">D</text>
<text x="30" y="1268" class="m">x<tspan font-size="11" dy="4">s</tspan></text>
<text x="27" y="1298" class="m">x<tspan font-size="11" dy="4">t</tspan><tspan font-size="11" dy="-12">(K)</tspan></text>
<rect x="60" y="1257" width="25" height="41" fill="#000"/><text x="61" y="1284" class="w" font-size="16">LE</text>
<rect x="97" y="1257" width="25" height="41" fill="#000"/><text x="98" y="1284" class="w" font-size="16">LT</text>
<text x="126" y="1268" class="m">l<tspan font-size="11" dy="4">s</tspan></text>
<text x="124" y="1292" class="m">l<tspan font-size="11" dy="4">ts</tspan><tspan font-size="11" dy="-12">(K)</tspan></text>
<text x="163" y="1238" class="s">Source encoder</text>
<use href="#enc" x="187" y="1244" width="34" height="42"/><text x="188" y="1270" class="m">En<tspan font-size="11" dy="4">s</tspan></text>
<text x="236" y="1268" class="m">e<tspan font-size="11" dy="4">s</tspan></text>
<rect x="266" y="1248" width="44" height="27" fill="#b4c7e7" stroke="#333" stroke-width="1.5"/><text x="272" y="1268" class="m">IAB</text>
<text x="328" y="1268" class="m">e<tspan font-size="11" dy="4">st</tspan></text>
<use href="#dec" x="365" y="1244" width="36" height="42"/><text x="373" y="1270" class="m">De</text>
<text x="416" y="1268" class="m">x<tspan font-size="11" dy="4">g</tspan></text>
<use href="#idn" x="475" y="1263" width="34" height="40"/><text x="482" y="1288" class="m">I<tspan font-size="11" dy="4">1</tspan></text>
<text x="449" y="1308" class="mg">x<tspan font-size="11" dy="4">s</tspan></text>
<use href="#idn" x="475" y="1314" width="34" height="40"/><text x="482" y="1340" class="m">I<tspan font-size="11" dy="4">2</tspan></text>
<text x="228" y="1300" class="s">Target encoder</text>
<text x="158" y="1318" class="m">…l<tspan font-size="11" dy="4">ts</tspan><tspan font-size="11" dy="-12">(i)</tspan></text>
<use href="#pl" x="202" y="1322" width="16" height="16"/>
<use href="#bow" x="230" y="1308" width="67" height="44"/><text x="250" y="1337" class="m">En<tspan font-size="11" dy="4">t</tspan></text>
<text x="318" y="1313" class="m">v<tspan font-size="11" dy="4">t</tspan><tspan font-size="11" dy="-12">(K)</tspan></text>
<text x="316" y="1350" class="m">w<tspan font-size="11" dy="4">t</tspan><tspan font-size="11" dy="-12">(K)</tspan></text>
<text x="158" y="1358" class="m">…x<tspan font-size="11" dy="4">t</tspan><tspan font-size="11" dy="-12">(i)</tspan></text>
<path class="k" d="M45 1263H60M45 1292H60M85 1263H97M85 1292H97M140 1265H187M221 1265H234M250 1265H266M310 1265H326M346 1265H365M401 1265H414M135 1298V1312H155M192 1318H210V1322M218 1330H230M192 1353H210V1338M297 1318H315M297 1342H313M45 1300V1345H155M265 1308V1300"/>
<path class="d" d="M40 1260V1217H440M425 1208H440M425 1270V1295H475M465 1310V1335H475"/>

<!-- ================= 39 ================= -->
<rect x="558" y="1138" width="19" height="22" fill="none" stroke="#2d2" stroke-width="2"/>
<text x="552" y="1155" class="t">[39] Liu et al. 2019: <tspan class="l">ℒ<tspan font-size="11" dy="4">adv</tspan><tspan dy="-4">, ℒ</tspan><tspan font-size="11" dy="4">1</tspan><tspan dy="-4">, ℒ</tspan><tspan font-size="11" dy="4">FM</tspan><tspan dy="-4">, ℒ</tspan><tspan font-size="11" dy="4">perc</tspan><tspan dy="-4">, ℒ</tspan><tspan font-size="11" dy="4">*</tspan></tspan></text>
<text x="550" y="1183" class="n"><tspan font-style="italic">UBKE</tspan>: Upper-body Key point Extractor</text>
<text x="550" y="1206" class="m" font-size="15">X<tspan font-size="10" dy="4">t</tspan><tspan dy="-4" font-style="normal"> = {</tspan>x<tspan font-size="10" dy="4">t</tspan><tspan font-size="10" dy="-11">(t)</tspan><tspan dy="7">,… x</tspan><tspan font-size="10" dy="4">t</tspan><tspan font-size="10" dy="-11">(t−L)</tspan><tspan dy="7" font-style="normal">}, </tspan>C<tspan font-size="10" dy="4">g</tspan><tspan dy="-4" font-style="normal"> = {</tspan>c<tspan font-size="10" dy="4">g</tspan><tspan font-size="10" dy="-11">(t)</tspan><tspan dy="7">,… c</tspan><tspan font-size="10" dy="4">g</tspan><tspan font-size="10" dy="-11">(t−L)</tspan><tspan dy="7" font-style="normal">}, </tspan>X<tspan font-size="10" dy="4">t</tspan><tspan dy="-4" font-style="normal"> = {</tspan>x<tspan font-size="10" dy="4">t</tspan><tspan font-size="10" dy="-11">(t)</tspan><tspan dy="7">,… x</tspan><tspan font-size="10" dy="4">t</tspan><tspan font-size="10" dy="-11">(t−L)</tspan><tspan dy="7" font-style="normal">}</tspan></text>
<text x="556" y="1240" class="mg">x<tspan font-size="11" dy="4">t</tspan></text>
<rect x="585" y="1245" width="56" height="22" fill="#000"/><text x="588" y="1262" class="w">UBKE</text>
<text x="647" y="1262" class="m">u<tspan font-size="11" dy="4">s</tspan></text>
<rect x="685" y="1245" width="76" height="22" fill="#000"/><text x="690" y="1262" class="nw" font-size="15">normalize</text>
<text x="773" y="1262" class="m">u<tspan font-size="11" dy="4">g</tspan></text>
<text x="555" y="1303" class="m">x<tspan font-size="11" dy="4">s</tspan><tspan font-size="11" dy="-12">(t)</tspan></text>
<rect x="603" y="1287" width="40" height="22" fill="#000"/><text x="605" y="1304" class="w">AUE</text>
<text x="650" y="1303" class="m">a<tspan font-size="11" dy="4">s</tspan></text>
<use href="#bow" x="685" y="1277" width="66" height="44"/><text x="710" y="1304" class="m">H<tspan font-size="11" dy="4">1</tspan></text>
<text x="764" y="1303" class="m">b<tspan font-size="11" dy="4">g</tspan></text>
<circle cx="805" cy="1298" r="8" fill="#fff" stroke="#000" stroke-width="1.3"/><text x="800" y="1302" class="m" font-size="13">p</text>
<text x="826" y="1303" class="m">c<tspan font-size="11" dy="4">g</tspan></text>
<use href="#pl" x="874" y="1290" width="16" height="16"/>
<text x="826" y="1234" class="m">x<tspan font-size="11" dy="4">s</tspan><tspan font-size="11" dy="-12">(t−1)</tspan></text>
<text x="828" y="1256" class="m">⋮</text>
<text x="826" y="1278" class="m">x<tspan font-size="11" dy="4">s</tspan><tspan font-size="11" dy="-12">(t−L)</tspan></text>
<text x="918" y="1228" class="mg">X<tspan font-size="11" dy="4">g</tspan></text>
<text x="918" y="1256" class="mg">C<tspan font-size="11" dy="4">g</tspan></text>
<text x="918" y="1285" class="mg">X<tspan font-size="11" dy="4">t</tspan></text>
<text x="918" y="1305" class="mg">X<tspan font-size="11" dy="4">g</tspan><tspan dy="-4">, X</tspan><tspan font-size="11" dy="4">t</tspan></text>
<use href="#pg" x="976" y="1232" width="16" height="16"/>
<use href="#pg" x="976" y="1252" width="16" height="16"/>
<use href="#dis" x="1002" y="1229" width="34" height="42"/><text x="1008" y="1256" class="m">D<tspan font-size="11" dy="4">2</tspan></text>
<text x="1046" y="1258" class="mg">y<tspan font-size="11" dy="4">2</tspan></text>
<use href="#idn" x="1002" y="1279" width="34" height="40"/><text x="1014" y="1305" class="m">I</text>
<use href="#bow" x="910" y="1322" width="66" height="42"/><text x="932" y="1349" class="m">H<tspan font-size="11" dy="4">2</tspan></text>
<text x="902" y="1373" class="s">Image Generator</text>
<text x="988" y="1345" class="m">x<tspan font-size="11" dy="4">g</tspan><tspan font-size="11" dy="-12">(t)</tspan></text>
<text x="662" y="1328" class="s">Face Boundary Pred.</text>
<use href="#pg" x="764" y="1330" width="16" height="16"/>
<use href="#pg" x="764" y="1350" width="16" height="16"/>
<use href="#dis" x="792" y="1326" width="34" height="40"/><text x="798" y="1352" class="m">D<tspan font-size="11" dy="4">1</tspan></text>
<text x="836" y="1354" class="mg">y<tspan font-size="11" dy="4">1</tspan></text>
<text x="626" y="1370" class="mg">b<tspan font-size="11" dy="4">t</tspan><tspan font-size="11" dy="-10">′</tspan></text>
<path class="k" d="M570 1296H603M643 1298H648M665 1298H685M751 1298H762M780 1298H797M663 1256H685M761 1256H772M790 1260V1290M813 1298H824M843 1298H874M860 1240H882V1290M860 1272H882M882 1306V1340H910M976 1342H986"/>
<path class="d" d="M570 1243V1256H585M940 1240H976M940 1260H976M992 1240H1002M992 1260H1002M980 1218V1232M960 1290H1002M780 1306V1338M640 1338H764M640 1358H764M780 1338H792M780 1358H792M660 1305V1338"/>

<!-- caption -->
<text x="8" y="1397" class="c">Fig. 5: Architectural schematics of <tspan font-weight="bold">reenactment networks</tspan>. Black lines indicate prediction flows used during deployment, dashed</text>
<text x="8" y="1422" class="c">gray lines indicate dataflows performed during training. Zoom in for more detail.</text>
</svg>
</body></html>
